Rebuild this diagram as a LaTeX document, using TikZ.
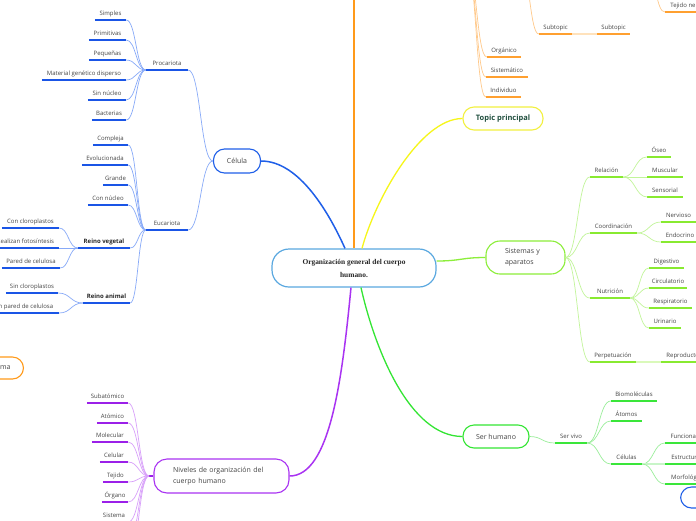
\documentclass[tikz,border=0pt]{standalone}
\usepackage{fontspec}
\usetikzlibrary{calc}
\newfontfamily\osans{Open Sans}
\newfontfamily\lserif{Liberation Serif}
\newcommand\SM{\osans\fontsize{6}{7}\selectfont}
\newcommand\MD{\osans\fontsize{7}{11}\selectfont}
\definecolor{blueM}{HTML}{1F5FE8}
\definecolor{blueU}{HTML}{1A55E6}
\definecolor{blueC}{HTML}{88AAF8}
\definecolor{purM}{HTML}{A933F2}
\definecolor{purU}{HTML}{9B20E8}
\definecolor{purC}{HTML}{D8A0FA}
\definecolor{orM}{HTML}{FF9A1A}
\definecolor{orU}{HTML}{FFA030}
\definecolor{orC}{HTML}{FFC98A}
\definecolor{orP}{HTML}{FFE2BC}
\definecolor{yeM}{HTML}{F6F61A}
\definecolor{yeB}{HTML}{F2F040}
\definecolor{lgM}{HTML}{8CEE3A}
\definecolor{lgU}{HTML}{88EA30}
\definecolor{lgC}{HTML}{C2F59A}
\definecolor{lgP}{HTML}{DAF9BA}
\definecolor{grM}{HTML}{33E533}
\definecolor{grU}{HTML}{3AE63A}
\definecolor{grC}{HTML}{9AEE9A}
\definecolor{grP}{HTML}{C8F5C8}
\definecolor{mainB}{HTML}{5AA8E0}
\definecolor{txt}{HTML}{444444}
\definecolor{topicT}{HTML}{1F4E3D}
\newcommand\conn[3][]{\draw[#1] let \p1=(#2), \p2=(#3) in (\p1) .. controls ({(\x1+\x2)/2},\y1) and ({(\x1+\x2)/2},\y2) .. (\p2);}
\newcommand\UL[6]{\node[lab, minimum width=#4pt] (#1) at (#2,#3) {#6};
  \draw[#5] (#1.south west) -- (#1.south east);}
\newcommand\ULB[6]{\node[lab, font=\SM\bfseries, text=black!85, minimum width=#4pt] (#1) at (#2,#3) {#6};
  \draw[#5] (#1.south west) -- (#1.south east);}
\tikzset{
  lab/.style={anchor=south, inner xsep=0pt, inner ysep=3.2pt, text height=4.6pt, text depth=1.4pt, font=\SM, text=txt},
  topic/.style={draw, rounded corners=11pt, line width=1.1pt, font=\MD, text=txt, inner ysep=0pt, fill=white},
  uB/.style={draw=blueU, line width=1.4pt}, cB/.style={draw=blueC, line width=0.7pt},
  uP/.style={draw=purU, line width=1.4pt}, cP/.style={draw=purC, line width=0.7pt},
  uO/.style={draw=orU, line width=1.4pt}, cO/.style={draw=orC, line width=0.7pt}, pO/.style={draw=orP, line width=1.4pt},
  uLG/.style={draw=lgU, line width=1.4pt}, cLG/.style={draw=lgC, line width=0.7pt}, pLG/.style={draw=lgP, line width=1.4pt},
  uG/.style={draw=grU, line width=1.4pt}, cG/.style={draw=grC, line width=0.7pt}, pG/.style={draw=grP, line width=1.4pt},
}
\begin{document}
\begin{tikzpicture}[x=1pt,y=-1pt]
\fill[white] (0,0) rectangle (696,520);
\useasboundingbox (0,0) rectangle (696,520);

% ---------- main node ----------
\node[draw=mainB, line width=1.2pt, rounded corners=17pt, minimum width=164pt, minimum height=38pt, align=center, fill=white, text=black!85, font=\lserif\bfseries\fontsize{7.4}{13}\selectfont] (main) at (354,268) {Organización general del cuerpo\\humano.};

% ---------- blue: Celula ----------
\node[topic, draw=blueM, minimum width=47pt, minimum height=24pt] (celula) at (237,161) {Célula};
\UL{proc}{167}{70}{42}{uB}{Procariota}
\UL{euca}{167}{230}{42}{uB}{Eucariota}
\UL{simples}{110.5}{20}{31}{uB}{Simples}
\UL{primitivas}{107.5}{40}{37}{uB}{Primitivas}
\UL{pequenas}{107.5}{60}{37}{uB}{Pequeñas}
\UL{material}{84}{80}{84}{uB}{Material genético disperso}
\UL{sinnucleo}{107}{100}{38}{uB}{Sin núcleo}
\UL{bacterias}{109}{120}{34}{uB}{Bacterias}
\UL{compleja}{110.5}{145}{35}{uB}{Compleja}
\UL{evol}{105}{165}{46}{uB}{Evolucionada}
\UL{grande}{115.5}{185}{25}{uB}{Grande}
\UL{connucleo}{108}{205}{40}{uB}{Con núcleo}
\ULB{vegetal}{104}{248}{52}{uB}{Reino vegetal}
\ULB{animal}{106.5}{303}{47}{uB}{Reino animal}
\UL{concloro}{30.5}{228}{57}{uB}{Con cloroplastos}
\UL{fotos}{25.5}{248}{67}{uB}{Realizan fotosíntesis}
\UL{pared}{31}{268}{58}{uB}{Pared de celulosa}
\UL{sincloro}{32}{293}{52}{uB}{Sin cloroplastos}
\UL{sinpared}{23.5}{313}{71}{uB}{Sin pared de celulosa}

\draw[draw=blueM, line width=1.5pt] ([xshift=-9pt]main.north) .. controls (330,215) and (300,161) .. (celula.east);
\conn[cB]{celula.west}{proc.south east}
\conn[cB]{celula.west}{euca.south east}
\foreach \q in {simples,primitivas,pequenas,material,sinnucleo,bacterias} {\conn[cB]{proc.south west}{\q.south east}}
\foreach \q in {compleja,evol,grande,connucleo,vegetal,animal} {\conn[cB]{euca.south west}{\q.south east}}
\foreach \q in {concloro,fotos,pared} {\conn[cB]{vegetal.south west}{\q.south east}}
\foreach \q in {sincloro,sinpared} {\conn[cB]{animal.south west}{\q.south east}}

% ---------- orange ----------
\coordinate (otop) at (354,-10);
\draw[draw=orM, line width=1.6pt] (main.north) -- (otop);
\coordinate (osrc1) at (466,-40);
\coordinate (osrc2) at (521,-30);
\coordinate (osrc3) at (648,-22);
\UL{organico}{504}{57}{34}{uO}{Orgánico}
\UL{sistematico}{507}{77}{42}{uO}{Sistemático}
\UL{individuo}{503.5}{97}{35}{uO}{Individuo}
\UL{sub1}{555.5}{34}{33}{uO}{Subtopic}
\UL{sub2}{613.5}{34}{33}{uO}{Subtopic}
\UL{tejner}{691.5}{12}{53}{uO}{Tejido nervioso}
\foreach \q in {organico,sistematico,individuo} {\conn[cO]{osrc1}{\q.south west}}
\conn[cO]{osrc2}{sub1.south west}
\draw[pO] (sub1.south east) -- (sub2.south west);
\conn[cO]{osrc3}{tejner.south west}
\node[topic, draw=orM, anchor=east, inner xsep=13pt, minimum height=22pt] (proto) at (24,368) {Protoplasma};

% ---------- yellow ----------
\node[topic, draw=yeB, minimum width=80pt, minimum height=23pt, text=topicT, font=\osans\bfseries\fontsize{7.5}{9}\selectfont] (topic) at (503,118.5) {Topic principal};
\draw[draw=yeM, line width=1.3pt] ([xshift=8pt]main.north) .. controls (375,200) and (420,118.5) .. (topic.west);

% ---------- light green ----------
\node[topic, draw=lgM, text width=41pt, inner xsep=19pt, minimum height=33pt, rounded corners=14pt, align=left] (sist) at (525.5,257.5) {Sistemas y\\aparatos};
\conn[draw=lgM, line width=1.3pt]{[yshift=7pt]main.east}{sist.west}
\UL{relacion}{606.5}{177}{33}{uLG}{Relación}
\UL{coord}{613.5}{233}{47}{uLG}{Coordinación}
\UL{nutri}{610}{298}{40}{uLG}{Nutrición}
\UL{perpet}{613}{362}{46}{uLG}{Perpetuación}
\UL{reprod}{684}{362}{46}{uLG}{Reproductor}
\UL{oseo}{659}{157}{24}{uLG}{Óseo}
\UL{muscular}{665}{177}{35}{uLG}{Muscular}
\UL{sensorial}{665}{197}{35}{uLG}{Sensorial}
\UL{nervioso}{678.5}{222}{35}{uLG}{Nervioso}
\UL{endocrino}{680}{242}{38}{uLG}{Endocrino}
\UL{digest}{666.5}{268}{35}{uLG}{Digestivo}
\UL{circ}{668}{288}{38}{uLG}{Circulatorio}
\UL{resp}{670.5}{308}{43}{uLG}{Respiratorio}
\UL{urin}{665}{328}{32}{uLG}{Urinario}
\foreach \q in {relacion,coord,nutri,perpet} {\conn[cLG]{sist.east}{\q.south west}}
\foreach \q in {oseo,muscular,sensorial} {\conn[cLG]{relacion.south east}{\q.south west}}
\foreach \q in {nervioso,endocrino} {\conn[cLG]{coord.south east}{\q.south west}}
\foreach \q in {digest,circ,resp,urin} {\conn[cLG]{nutri.south east}{\q.south west}}
\draw[pLG] (perpet.south east) -- (reprod.south west);

% ---------- green ----------
\node[topic, draw=grM, minimum width=66pt, minimum height=23pt] (serh) at (496,436.5) {Ser humano};
\draw[draw=grM, line width=1.3pt] ([xshift=7pt]main.south) .. controls (375,350) and (410,436.5) .. (serh.west);
\UL{servivo}{571}{443}{32}{uG}{Ser vivo}
\UL{biomol}{634}{401}{46}{uG}{Biomoléculas}
\UL{atomos}{626.5}{421}{31}{uG}{Átomos}
\UL{celulas}{626.5}{464}{31}{uG}{Células}
\UL{funcional}{684}{443}{38}{uG}{Funcional}
\UL{estruct}{686.5}{464}{43}{uG}{Estructural}
\UL{morfo}{688}{484}{46}{uG}{Morfológico}
\conn[cG]{serh.east}{servivo.south west}
\foreach \q in {biomol,atomos,celulas} {\conn[cG]{servivo.south east}{\q.south west}}
\conn[cG]{celulas.south east}{funcional.south west}
\draw[pG] (celulas.south east) -- (estruct.south west);
\conn[cG]{celulas.south east}{morfo.south west}
\node[topic, draw=blueM, anchor=west, inner xsep=15pt, minimum height=21pt] (euc2) at (680,497.5) {Eucariota};

% ---------- purple ----------
\node[topic, draw=purM, text width=97pt, inner xsep=19pt, minimum height=34pt, rounded corners=13pt, align=left] (niveles) at (221.5,476) {Niveles de organización del\\cuerpo humano};
\draw[draw=purM, line width=1.5pt] ([xshift=-3pt]main.south) .. controls (342,380) and (330,476) .. (niveles.east);
\UL{subat}{107.5}{403}{41}{uP}{Subatómico}
\UL{atom}{112.5}{423}{31}{uP}{Atómico}
\UL{molec}{110}{442}{36}{uP}{Molecular}
\UL{celular}{114}{462}{28}{uP}{Celular}
\UL{tejido}{115.5}{482}{25}{uP}{Tejido}
\UL{organo}{115}{502}{26}{uP}{Órgano}
\UL{sistema}{114}{522}{28}{uP}{Sistema}
\coordinate (offP1) at (128,542);
\coordinate (offP2) at (128,562);
\coordinate (nivL) at (149,476);
\draw[uP] (niveles.west) -- (nivL);
\foreach \q in {subat,atom,molec,celular,tejido,organo,sistema} {\conn[cP]{nivL}{\q.south east}}
\conn[cP]{nivL}{offP1}
\conn[cP]{nivL}{offP2}
\end{tikzpicture}
\end{document}
